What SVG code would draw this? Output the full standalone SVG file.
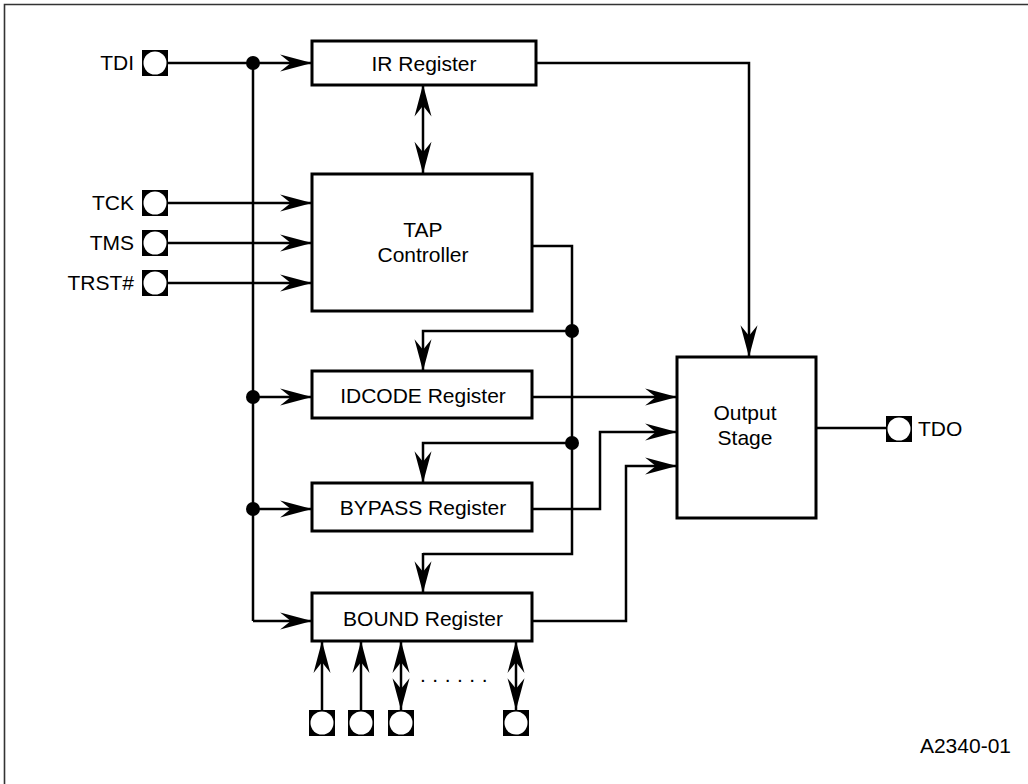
<svg xmlns="http://www.w3.org/2000/svg" width="1028" height="784" viewBox="0 0 1028 784">
<style>
.box{fill:#fff;stroke:#000;stroke-width:3}
.ln{fill:none;stroke:#000;stroke-width:2.5}
.arr{marker-end:url(#ah)}
.dbl{marker-start:url(#ah);marker-end:url(#ah)}
.t{font-family:"Liberation Sans",Arial,sans-serif;font-size:21px;fill:#000}
.dot{fill:#000}
.padsq{fill:#000}
.padc{fill:#fff}
</style>
<defs>
<marker id="ah" markerUnits="userSpaceOnUse" markerWidth="34" markerHeight="20" viewBox="-31 -9 32 18" refX="0" refY="0" orient="auto-start-reverse">
<path d="M0,0 L-30,-8 L-20,0 L-30,8 Z" fill="#000"/>
</marker>
<g id="pad"><rect class="padsq" x="0" y="0" width="26" height="26"/><circle class="padc" cx="13" cy="13" r="11.5"/></g>
</defs>
<rect width="1028" height="784" fill="#fff"/>
<path d="M4.5,790 V4.5 H1040" fill="none" stroke="#333" stroke-width="1.6"/>

<g id="connectors">
<path class="ln arr" d="M168,63 H312"/>
<path class="ln" d="M253,63 V621"/>
<path class="ln arr" d="M253,621 H312"/>
<path class="ln arr" d="M253,397 H312"/>
<path class="ln arr" d="M253,509 H312"/>
<path class="ln arr" d="M168,203 H312"/>
<path class="ln arr" d="M168,243 H312"/>
<path class="ln arr" d="M168,283 H312"/>
<path class="ln dbl" d="M423,84.5 V173.5"/>
<path class="ln arr" d="M536,63 H749 V357"/>
<path class="ln" d="M532,246 H572 V554 H423"/>
<path class="ln arr" d="M423,553 V593"/>
<path class="ln arr" d="M572,331 H423 V371"/>
<path class="ln arr" d="M572,443 H423 V483"/>
<path class="ln arr" d="M532,397 H677"/>
<path class="ln arr" d="M532,509 H600 V432 H677"/>
<path class="ln arr" d="M532,621 H626 V466 H677"/>
<path class="ln" d="M816,428 H886"/>
<path class="ln arr" d="M322,710 V641"/>
<path class="ln arr" d="M361,710 V641"/>
<path class="ln dbl" d="M401,710 V641"/>
<path class="ln dbl" d="M516,710 V641"/>
<circle class="dot" cx="253" cy="63" r="7"/>
<circle class="dot" cx="253" cy="397" r="7"/>
<circle class="dot" cx="253" cy="509" r="7"/>
<circle class="dot" cx="572" cy="331" r="7"/>
<circle class="dot" cx="572" cy="443" r="7"/>
</g>

<g id="ir"><rect class="box" x="312" y="41" width="224" height="44"/><text class="t" x="424" y="71" text-anchor="middle">IR Register</text></g>
<g id="tap"><rect class="box" x="312" y="174" width="220" height="137"/><text class="t" x="423" y="237" text-anchor="middle">TAP</text><text class="t" x="423" y="262" text-anchor="middle">Controller</text></g>
<g id="idcode"><rect class="box" x="312" y="371" width="220" height="47"/><text class="t" x="423" y="403" text-anchor="middle">IDCODE Register</text></g>
<g id="bypass"><rect class="box" x="312" y="483" width="220" height="48"/><text class="t" x="423" y="515" text-anchor="middle">BYPASS Register</text></g>
<g id="bound"><rect class="box" x="312" y="593" width="220" height="48"/><text class="t" x="423" y="626" text-anchor="middle">BOUND Register</text></g>
<g id="output"><rect class="box" x="677" y="357" width="139" height="161"/><text class="t" x="745" y="420" text-anchor="middle">Output</text><text class="t" x="745" y="445" text-anchor="middle">Stage</text></g>

<g id="tdi"><use href="#pad" x="142" y="50"/><text class="t" x="134" y="70" text-anchor="end">TDI</text></g>
<g id="tck"><use href="#pad" x="142" y="190"/><text class="t" x="134" y="210" text-anchor="end">TCK</text></g>
<g id="tms"><use href="#pad" x="142" y="230"/><text class="t" x="134" y="250" text-anchor="end">TMS</text></g>
<g id="trst"><use href="#pad" x="142" y="270"/><text class="t" x="134" y="290" text-anchor="end">TRST#</text></g>
<g id="tdo"><use href="#pad" x="886" y="416"/><text class="t" x="918" y="436">TDO</text></g>
<g id="bpad1"><use href="#pad" x="309" y="710"/></g>
<g id="bpad2"><use href="#pad" x="348" y="710"/></g>
<g id="bpad3"><use href="#pad" x="388" y="710"/></g>
<g id="bpad4"><use href="#pad" x="503" y="710"/></g>
<g id="ellipsis"><text class="t" x="457" y="682" text-anchor="middle" font-size="16" letter-spacing="6.5">......</text></g>
<text class="t" x="1011" y="753" text-anchor="end" font-size="15">A2340-01</text>
</svg>
